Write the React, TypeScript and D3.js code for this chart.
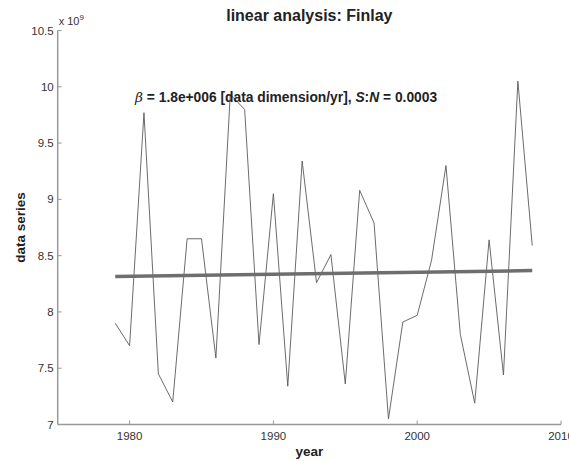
import React from "react";
import * as d3 from "d3";

const years = [1979,1980,1981,1982,1983,1984,1985,1986,1987,1988,1989,1990,1991,1992,1993,1994,1995,1996,1997,1998,1999,2000,2001,2002,2003,2004,2005,2006,2007,2008];
const values = [7.90,7.70,9.77,7.45,7.20,8.65,8.65,7.59,9.93,9.80,7.71,9.05,7.34,9.34,8.26,8.51,7.36,9.08,8.79,7.05,7.91,7.97,8.46,9.30,7.80,7.19,8.64,7.44,10.05,8.59];
const trendStart = 8.315;
const slopePerYear = 0.0018;
const xTicks = [1980, 1990, 2000, 2010];
const yTicks = [7, 7.5, 8, 8.5, 9, 9.5, 10, 10.5];

const W = 569, H = 461;
const left = 57.7, right = 561, top = 30.5, bottom = 424.5;

export default function App() {
  const x = d3.scaleLinear().domain([1975, 2010]).range([left, right]);
  const y = d3.scaleLinear().domain([7, 10.5]).range([bottom, top]);
  const line = d3.line<number>().x((_, i) => x(years[i])).y((v) => y(v));
  const y0 = years[0], y1 = years[years.length - 1];
  const trend = [
    [y0, trendStart],
    [y1, trendStart + slopePerYear * (y1 - y0)],
  ];
  const font = "'Liberation Sans', Arial, sans-serif";
  return (
    <svg width={W} height={H} style={{ position: "absolute", left: 0, top: 0, background: "#fff" }} fontFamily={font}>
      <rect width={W} height={H} fill="#fff" />
      <line x1={left} x2={left} y1={top} y2={bottom} stroke="#999" strokeWidth={1.5} />
      <line x1={left} x2={right} y1={bottom} y2={bottom} stroke="#999" strokeWidth={1.5} />
      {yTicks.map((t) => (
        <g key={"y" + t}>
          <line x1={left} x2={left + 4} y1={y(t)} y2={y(t)} stroke="#999" strokeWidth={1} />
          <text x={left - 4} y={y(t)} dy="0.35em" textAnchor="end" fontSize={11.5} fill="#333">{t}</text>
        </g>
      ))}
      {xTicks.map((t) => (
        <g key={"x" + t}>
          <line x1={x(t)} x2={x(t)} y1={bottom} y2={bottom - 4} stroke="#999" strokeWidth={1} />
          <text x={x(t)} y={bottom + 15} textAnchor="middle" fontSize={11.5} fill="#333">{t}</text>
        </g>
      ))}
      <text x={left + 1} y={25} fontSize={11} fill="#333">x 10<tspan dy={-5} fontSize={8}>9</tspan></text>
      <path d={line(values) || ""} fill="none" stroke="#5a5a5a" strokeWidth={0.9} />
      <path d={d3.line()(trend.map((p) => [x(p[0]), y(p[1])]) as [number, number][]) || ""} fill="none" stroke="#6e6e6e" strokeWidth={3.5} />
      <text x={(left + right) / 2} y={21} textAnchor="middle" fontSize={16} fontWeight="bold" fill="#222">linear analysis: Finlay</text>
      <text x={135} y={102} fontSize={13.8} fontWeight="bold" fill="#222">
        <tspan fontStyle="italic" fontWeight="normal" fontFamily="'DejaVu Serif', serif">β</tspan>
        <tspan> = 1.8e+006 [data dimension/yr], </tspan>
        <tspan fontStyle="italic">S</tspan>
        <tspan>:</tspan>
        <tspan fontStyle="italic">N</tspan>
        <tspan> = 0.0003</tspan>
      </text>
      <text x={(left + right) / 2} y={456} textAnchor="middle" fontSize={13.5} fontWeight="bold" fill="#222">year</text>
      <text transform={`translate(25,${(top + bottom) / 2}) rotate(-90)`} textAnchor="middle" fontSize={13.5} fontWeight="bold" fill="#222">data series</text>
    </svg>
  );
}
